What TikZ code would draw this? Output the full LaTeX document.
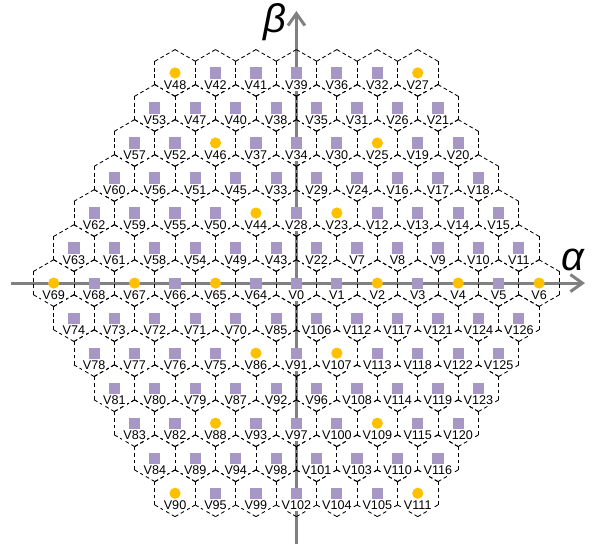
\documentclass[tikz,border=0pt]{standalone}
\usepackage{fontspec}
\setmainfont{Liberation Sans}
\usetikzlibrary{arrows.meta}
\definecolor{sqcol}{RGB}{166,151,196}
\definecolor{dotcol}{RGB}{255,192,0}
\definecolor{axiscol}{RGB}{128,128,128}
\def\vrows{{48/c,42/s,41/s,39/s,36/s,32/s,27/c},
{53/s,47/s,40/s,38/s,35/s,31/s,26/s,21/s},
{57/s,52/s,46/c,37/s,34/s,30/s,25/c,19/s,20/s},
{60/s,56/s,51/s,45/s,33/s,29/s,24/s,16/s,17/s,18/s},
{62/s,59/s,55/s,50/s,44/c,28/s,23/c,12/s,13/s,14/s,15/s},
{63/s,61/s,58/s,54/s,49/s,43/s,22/s,7/s,8/s,9/s,10/s,11/s},
{69/c,68/s,67/c,66/s,65/c,64/s,0/s,1/s,2/c,3/s,4/c,5/s,6/c},
{74/s,73/s,72/s,71/s,70/s,85/s,106/s,112/s,117/s,121/s,124/s,126/s},
{78/s,77/s,76/s,75/s,86/c,91/s,107/c,113/s,118/s,122/s,125/s},
{81/s,80/s,79/s,87/s,92/s,96/s,108/s,114/s,119/s,123/s},
{83/s,82/s,88/c,93/s,97/s,100/s,109/c,115/s,120/s},
{84/s,89/s,94/s,98/s,101/s,103/s,110/s,116/s},
{90/c,95/s,99/s,102/s,104/s,105/s,111/c}}
\begin{document}
\begin{tikzpicture}[x=1pt,y=-1pt,
  hexedge/.style={draw=black, line width=0.85pt, dash pattern=on 3.8pt off 2.72pt},
  axisline/.style={draw=axiscol, line width=3pt, -{Straight Barb[length=12pt,width=17pt]}},
  vlabel/.style={fill=white, inner xsep=1pt, inner ysep=1.5pt, text height=9pt, text depth=0pt, font=\fontsize{12.6}{12.6}\selectfont},
  vpts/.style={fill=sqcol, draw=none, rectangle, minimum size=11.2pt, inner sep=0pt},
  vptc/.style={fill=dotcol, draw=none, circle, minimum size=11.2pt, inner sep=0pt},
  greek/.style={font=\fontsize{40}{40}\selectfont\itshape, inner sep=0pt}]
\useasboundingbox (0,0) rectangle (592,544);
% axes
\coordinate (xa0) at (11,283.1);
\coordinate (xa1) at (585,283.1);
\coordinate (ya0) at (296.4,544);
\coordinate (ya1) at (296.4,11);
\draw[axisline] (xa0) -- (xa1);
\draw[axisline] (ya0) -- (ya1);
\node[greek] (alpha) at (573,260) {α};
\node[greek] (beta) at (275,22) {β};
% hexagon cells
\foreach \row [count=\k from 0] in \vrows {
  \pgfmathsetmacro{\m}{abs(\k-6)}
  \pgfmathsetmacro{\cy}{283.1+35.03*(\k-6)}
  \foreach \v/\t [count=\c from 0] in \row {
    \pgfmathsetmacro{\cx}{296.4+40.45*(\c-6+\m/2)}
    \coordinate (hT) at (\cx,\cy-23.35);
    \coordinate (hUR) at (\cx+20.225,\cy-11.675);
    \coordinate (hLR) at (\cx+20.225,\cy+11.675);
    \coordinate (hB) at (\cx,\cy+23.35);
    \coordinate (hLL) at (\cx-20.225,\cy+11.675);
    \coordinate (hUL) at (\cx-20.225,\cy-11.675);
    \draw[hexedge] (hT) -- (hUR);
    \draw[hexedge] (hUR) -- (hLR);
    \draw[hexedge] (hLR) -- (hB);
    \draw[hexedge] (hB) -- (hLL);
    \draw[hexedge] (hLL) -- (hUL);
    \draw[hexedge] (hUL) -- (hT);
  }
}
% markers and labels
\foreach \row [count=\k from 0] in \vrows {
  \pgfmathsetmacro{\m}{abs(\k-6)}
  \pgfmathsetmacro{\cy}{283.1+35.03*(\k-6)}
  \foreach \v/\t [count=\c from 0] in \row {
    \pgfmathsetmacro{\cx}{296.4+40.45*(\c-6+\m/2)}
    \node[vpt\t] (p\v) at (\cx,\cy) {};
    \node[vlabel] (l\v) at (\cx,\cy+11.8) {V\v};
  }
}
\end{tikzpicture}
\end{document}
